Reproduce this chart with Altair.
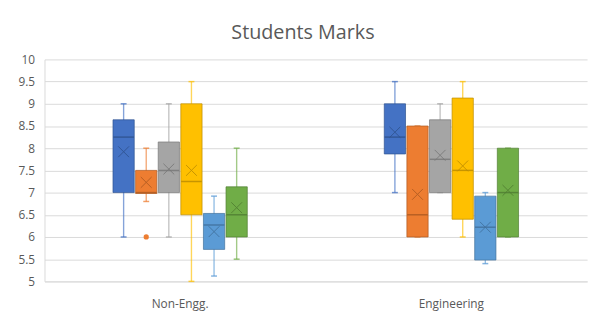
import altair as alt
import pandas as pd

categories = ["Non-Engg.", "Engineering"]
series = ["Series 1", "Series 2", "Series 3", "Series 4", "Series 5", "Series 6"]

# per category, in series order
mins = {"Non-Engg.": [6.0, 6.8, 6.0, 5.0, 5.12, 5.5],
        "Engineering": [7.0, 6.0, 7.0, 6.0, 5.4, 6.0]}
q1s = {"Non-Engg.": [7.0, 6.98, 7.0, 6.5, 5.72, 6.0],
       "Engineering": [7.87, 6.0, 7.0, 6.4, 5.48, 6.0]}
medians = {"Non-Engg.": [8.25, 7.0, 7.5, 7.25, 6.27, 6.5],
           "Engineering": [8.25, 6.5, 7.75, 7.5, 6.22, 7.0]}
q3s = {"Non-Engg.": [8.64, 7.5, 8.14, 9.0, 6.53, 7.13],
       "Engineering": [9.0, 8.5, 8.64, 9.13, 6.92, 8.0]}
maxs = {"Non-Engg.": [9.0, 8.0, 9.0, 9.5, 6.92, 8.0],
        "Engineering": [9.5, 8.5, 9.0, 9.5, 7.0, 8.0]}
means = {"Non-Engg.": [7.92, 7.23, 7.53, 7.5, 6.12, 6.66],
         "Engineering": [8.36, 6.96, 7.84, 7.6, 6.22, 7.05]}

outlier_cat = ["Non-Engg."]
outlier_series = ["Series 2"]
outlier_val = [6.0]

y_ticks = [5, 5.5, 6, 6.5, 7, 7.5, 8, 8.5, 9, 9.5, 10]

base_colors = ["#4472C4", "#ED7D31", "#A5A5A5", "#FFC000", "#5B9BD5", "#70AD47"]
dark_colors = ["#2F528F", "#AE5A21", "#787878", "#BC8C00", "#41719C", "#507E32"]

rows = []
for c in categories:
    for i, s in enumerate(series):
        rows.append(dict(cat=c, series=s, mn=mins[c][i], q1=q1s[c][i],
                         med=medians[c][i], q3=q3s[c][i], mx=maxs[c][i],
                         mean=means[c][i]))
df = pd.DataFrame(rows)
out_df = pd.DataFrame(dict(cat=outlier_cat, series=outlier_series, val=outlier_val))

FONT = "Open Sans"
TXT = "#595959"

x_enc = alt.X("cat:N", sort=categories,
              scale=alt.Scale(paddingInner=0.5, paddingOuter=0.25),
              axis=alt.Axis(title=None, labelAngle=0, labelColor=TXT,
                            labelFontSize=12, labelFont=FONT, ticks=False,
                            domain=True, domainColor="#D9D9D9",
                            labelPadding=18))
xo = alt.XOffset("series:N", sort=series,
                 scale=alt.Scale(paddingInner=0.06, paddingOuter=0.03))
y_scale = alt.Scale(domain=[5, 10], nice=False, zero=False)
y_axis = alt.Axis(title=None, values=y_ticks, format=".1~f", labelColor=TXT,
                  labelFontSize=12, labelFont=FONT, ticks=False,
                  labelOverlap=False, grid=True,
                  domainColor="#D9D9D9", gridColor="#D9D9D9", labelPadding=10)

def Y(field):
    return alt.Y(field, scale=y_scale, axis=y_axis)

def cscale(rng):
    return alt.Scale(domain=series, range=rng)

base = alt.Chart(df)

whisk = base.mark_rule(strokeWidth=1.4, opacity=0.65).encode(
    x=x_enc, xOffset=xo, y=Y("mn:Q"), y2="mx:Q",
    color=alt.Color("series:N", scale=cscale(base_colors), legend=None))

cap_lo = base.mark_tick(size=6, thickness=1.5, opacity=0.75).encode(
    x=x_enc, xOffset=xo, y=Y("mn:Q"),
    color=alt.Color("series:N", scale=cscale(base_colors), legend=None))
cap_hi = base.mark_tick(size=6, thickness=1.5, opacity=0.75).encode(
    x=x_enc, xOffset=xo, y=Y("mx:Q"),
    color=alt.Color("series:N", scale=cscale(base_colors), legend=None))

box = base.mark_bar(strokeWidth=1, strokeOpacity=0.7).encode(
    x=x_enc, xOffset=xo, y=Y("q1:Q"), y2="q3:Q",
    fill=alt.Fill("series:N", scale=cscale(base_colors), legend=None),
    stroke=alt.Stroke("series:N", scale=cscale(dark_colors), legend=None))

med = base.mark_tick(size=21, thickness=1.5, opacity=0.85).encode(
    x=x_enc, xOffset=xo, y=Y("med:Q"),
    color=alt.Color("series:N", scale=cscale(dark_colors), legend=None))

mean = base.mark_point(shape="M-1,-1L1,1M-1,1L1,-1", size=120, filled=False,
                       strokeWidth=1, opacity=0.85).encode(
    x=x_enc, xOffset=xo, y=Y("mean:Q"),
    color=alt.Color("series:N", scale=cscale(dark_colors), legend=None))

outl = alt.Chart(out_df).mark_point(shape="circle", size=28, filled=True,
                                    opacity=1).encode(
    x=x_enc, xOffset=xo, y=Y("val:Q"),
    color=alt.Color("series:N", scale=cscale(base_colors), legend=None))

chart = alt.layer(whisk, cap_lo, cap_hi, box, med, mean, outl).resolve_scale(
    color="independent", fill="independent", stroke="independent"
).properties(
    width=550, height=225,
    padding={"left": 37, "top": 50, "right": 4, "bottom": 34},
    autosize=alt.AutoSizeParams(type="none"),
    title=alt.TitleParams("Students Marks", font=FONT, fontSize=20,
                          fontWeight="normal", color=TXT, anchor="middle",
                          dx=-13, offset=11),
).configure_view(stroke=None)

chart.save("out.html", embed_options={"renderer": "svg", "actions": False})
